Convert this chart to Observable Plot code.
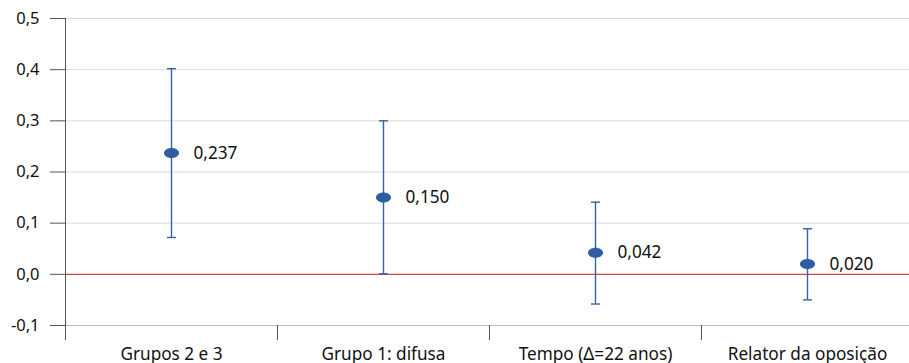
<!DOCTYPE html>
<html>
<head>
<meta charset="utf-8">
<script src="https://cdn.jsdelivr.net/npm/d3@7"></script>
<script src="https://cdn.jsdelivr.net/npm/@observablehq/plot@0.6"></script>
<style>
  html, body { margin: 0; padding: 0; background: #fff; overflow: hidden; }
  #chart svg { display: block; }
</style>
</head>
<body>
<div id="chart"></div>
<script>
const categories = ["Grupos 2 e 3", "Grupo 1: difusa", "Tempo (\u0394=22 anos)", "Relator da oposi\u00e7\u00e3o"];
const estimates = [0.237, 0.150, 0.042, 0.020];
const lower = [0.072, 0.001, -0.058, -0.050];
const upper = [0.402, 0.300, 0.141, 0.089];
const yTicks = [-0.1, 0, 0.1, 0.2, 0.3, 0.4, 0.5];

const data = categories.map((c, i) => ({
  cat: c, pos: i + 0.5, est: estimates[i], lo: lower[i], hi: upper[i]
}));
const boundaries = d3.range(categories.length + 1);

const fmt = d3.formatLocale({decimal: ",", thousands: ".", grouping: [3], currency: ["", ""], minus: "-"});
const f1 = fmt.format(".1f");
const f3 = fmt.format(".3f");

const capSymbol = {
  draw(ctx, size) { const r = 4.5; ctx.moveTo(-r, 0); ctx.lineTo(r, 0); }
};
const ellipseSymbol = {
  draw(ctx, size) {
    const rx = 7.5, ry = 5, k = 0.5523;
    ctx.moveTo(rx, 0);
    ctx.bezierCurveTo(rx, ry * k, rx * k, ry, 0, ry);
    ctx.bezierCurveTo(-rx * k, ry, -rx, ry * k, -rx, 0);
    ctx.bezierCurveTo(-rx, -ry * k, -rx * k, -ry, 0, -ry);
    ctx.bezierCurveTo(rx * k, -ry, rx, -ry * k, rx, 0);
    ctx.closePath();
  }
};

const blue = "#3462a6";
const fs = 16.5;
const fsCat = 17.2;
const chart = Plot.plot({
  width: 909,
  height: 363,
  marginTop: 18,
  marginBottom: 38,
  marginLeft: 65,
  marginRight: 0,
  style: {fontFamily: "'Noto Sans', 'Open Sans', sans-serif", fontSize: fs + "px", color: "#111", background: "#fff"},
  x: {domain: [0, categories.length], range: [65, 913]},
  y: {domain: [-0.1, 0.5], range: [325, 18]},
  marks: [
    Plot.ruleY(yTicks.filter(v => v !== 0 && v !== -0.1), {y: d => d, stroke: "#dadada", strokeWidth: 1}),
    Plot.ruleY([-0.1], {stroke: "#bfbfbf", strokeWidth: 1}),
    Plot.ruleY([0], {stroke: "#d9403a", strokeWidth: 1.3}),
    Plot.axisY({ticks: yTicks, tickSize: 15, tickPadding: 11, tickFormat: f1, stroke: "#555", fontSize: fs, fill: "#111", label: null}),
    Plot.axisX({ticks: boundaries, tickSize: 15, tickFormat: () => "", stroke: "#555", label: null}),
    Plot.frame({anchor: "left", stroke: "#555"}),
    Plot.text(data, {x: "pos", text: "cat", frameAnchor: "bottom", dy: 34, fontSize: fsCat, fill: "#111", lineAnchor: "bottom"}),
    Plot.ruleX(data, {x: "pos", y1: "lo", y2: "hi", stroke: blue, strokeWidth: 1.4}),
    Plot.dot(data, {x: "pos", y: "lo", symbol: capSymbol, r: 4.5, stroke: blue, strokeWidth: 1.4, fill: "none"}),
    Plot.dot(data, {x: "pos", y: "hi", symbol: capSymbol, r: 4.5, stroke: blue, strokeWidth: 1.4, fill: "none"}),
    Plot.dot(data, {x: "pos", y: "est", symbol: ellipseSymbol, r: 6, fill: "#2d5da2", stroke: "none"}),
    Plot.text(data, {x: "pos", y: "est", text: d => f3(d.est), dx: 22, textAnchor: "start", fontSize: fsCat, fill: "#111"})
  ]
});
document.getElementById("chart").append(chart);
</script>
</body>
</html>
